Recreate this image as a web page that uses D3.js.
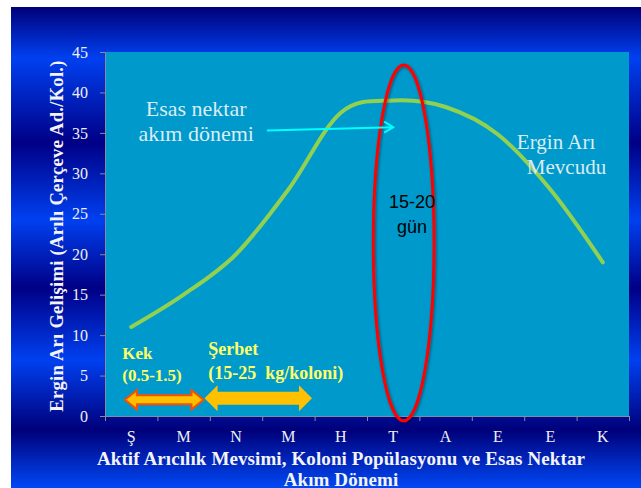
<!DOCTYPE html>
<html>
<head>
<meta charset="utf-8">
<script src="https://cdn.jsdelivr.net/npm/d3@7"></script>
<style>
    html, body { margin: 0; padding: 0; background: #fff; }
    svg { display: block; }
    text { font-family: "Liberation Serif", "DejaVu Serif", serif; }
</style>
</head>
<body>
<div id="chart"></div>
<script>
// Chart data
const months = ["Ş", "M", "N", "M", "H", "T", "A", "E", "E", "K"];
const beeFrames = [11, 15, 20, 28, 37.5, 39, 38.2, 34.8, 28, 19];
const yTicks = [0, 5, 10, 15, 20, 25, 30, 35, 40, 45];
const yLabel = "Ergin Arı Gelişimi (Arılı Çerçeve Ad./Kol.)";
const xLabel = ["Aktif Arıcılık Mevsimi, Koloni Popülasyonu ve Esas Nektar", "Akım Dönemi"];
const nectarLabel = ["Esas nektar", "akım dönemi"];
const seriesLabel = ["Ergin Arı", "Mevcudu"];
const flowLabel = ["15-20", "gün"];
const kekLabel = ["Kek", "(0.5-1.5)"];
const serbetLabel = ["Şerbet", "(15-25  kg/koloni)"];

const width = 641;
const height = 488;
const marginTop = 52;
const marginRight = 12;
const marginBottom = 72;
const marginLeft = 105;

const svg = d3
    .select("#chart")
    .append("svg")
    .attr("width", width)
    .attr("height", height);

const defs = svg.append("defs");

// Blue slide background with horizontal bands
const bg = defs
    .append("linearGradient")
    .attr("id", "bgGrad")
    .attr("gradientUnits", "userSpaceOnUse")
    .attr("x1", 0).attr("y1", 7)
    .attr("x2", 0).attr("y2", height);
[
    [7, "#00007a"], [58, "#0040f0"], [143, "#000086"], [220, "#0040f0"],
    [288, "#000086"], [360, "#0040f0"], [430, "#00007a"], [488, "#0048f5"],
].forEach(([yy, c]) => {
    bg.append("stop").attr("offset", (yy - 7) / (height - 7)).attr("stop-color", c);
});

const shadow = defs.append("filter").attr("id", "shadow")
    .attr("x", "-30%").attr("y", "-10%").attr("width", "160%").attr("height", "120%");
shadow.append("feDropShadow")
    .attr("dx", 1).attr("dy", 1).attr("stdDeviation", 1.5)
    .attr("flood-color", "#000").attr("flood-opacity", 0.45);

svg.append("rect")
    .attr("x", 11).attr("y", 7)
    .attr("width", width - 11).attr("height", height - 7)
    .attr("fill", "url(#bgGrad)");

// Scales
const x = d3
    .scaleBand()
    .domain(d3.range(months.length))
    .range([marginLeft, width - marginRight]);
const bw = x.bandwidth();
const cx = (i) => x(i) + bw / 2;

const y = d3
    .scaleLinear()
    .domain([0, 45])
    .range([height - marginBottom, marginTop]);

// Plot area
svg.append("rect")
    .attr("x", marginLeft)
    .attr("y", marginTop)
    .attr("width", width - marginRight - marginLeft)
    .attr("height", y(0) - marginTop)
    .attr("fill", "#0099cc");

// Y axis
svg.append("g")
    .attr("transform", `translate(${marginLeft},0)`)
    .call(d3.axisLeft(y).tickValues(yTicks).tickSize(5).tickPadding(12))
    .call((g) => g.selectAll("line, path").attr("stroke", "#8a8a9a"))
    .call((g) => g.selectAll("text")
        .attr("fill", "#eef0f4")
        .attr("font-family", "Liberation Serif, serif")
        .style("font-size", "16px"));

// X axis: ticks on band edges, labels at band centers
const xEdges = d3.scaleLinear().domain([0, months.length]).range(x.range());
svg.append("g")
    .attr("transform", `translate(0,${y(0)})`)
    .call(d3.axisBottom(xEdges).ticks(months.length).tickSize(5).tickFormat(""))
    .call((g) => g.selectAll("line, path").attr("stroke", "#8a8a9a"));

svg.append("g")
    .attr("transform", `translate(0,${y(0)})`)
    .call(d3.axisBottom(x).tickSize(0).tickPadding(15).tickFormat((i) => months[i]))
    .call((g) => g.select(".domain").remove())
    .call((g) => g.selectAll("text")
        .attr("fill", "#eef0f4")
        .attr("font-family", "Liberation Serif, serif")
        .style("font-size", "16px"));

// Axis titles
svg.append("text")
    .attr("transform", `translate(63,${(y(0) + marginTop) / 2 + 2}) rotate(-90)`)
    .attr("text-anchor", "middle")
    .attr("fill", "#f4f4f8")
    .attr("font-weight", "bold")
    .style("font-size", "18.5px")
    .style("letter-spacing", "0.3px")
    .text(yLabel);

svg.append("g")
    .selectAll("text")
    .data(xLabel)
    .join("text")
    .attr("x", 341)
    .attr("y", (d, i) => 465 + i * 20.5)
    .attr("text-anchor", "middle")
    .attr("fill", "#f4f4f8")
    .attr("font-weight", "bold")
    .style("font-size", "19px")
    .style("letter-spacing", "0.1px")
    .text((d) => d);

// Bee population curve
const line = d3
    .line()
    .x((d, i) => cx(i))
    .y((d) => y(d))
    .curve(d3.curveCatmullRom.alpha(0));

svg.append("path")
    .datum(beeFrames)
    .attr("fill", "none")
    .attr("stroke", "#92d050")
    .attr("stroke-width", 4)
    .attr("stroke-linecap", "round")
    .attr("d", line);

// Red ellipse around the nectar flow month
svg.append("ellipse")
    .attr("cx", x(5) + bw * 0.7)
    .attr("cy", (y(43.4) + y(-0.6)) / 2)
    .attr("rx", bw * 0.58)
    .attr("ry", (y(-0.6) - y(43.4)) / 2)
    .attr("fill", "none")
    .attr("stroke", "#ff0000")
    .attr("stroke-width", 3)
    .attr("filter", "url(#shadow)");

svg.append("g")
    .selectAll("text")
    .data(flowLabel)
    .join("text")
    .attr("x", x(5) + bw * 0.86)
    .attr("y", (d, i) => y(25.7) + i * 24.5)
    .attr("text-anchor", "middle")
    .attr("fill", "#000")
    .style("font-family", "Liberation Sans, Arial, sans-serif")
    .style("font-size", "18px")
    .text((d) => d);

// Cyan arrow pointing at the nectar flow
const ax0 = x(3) + bw * 0.09, ay0 = y(35.3);
const ax1 = cx(5), ay1 = y(35.7);
svg.append("line")
    .attr("x1", ax0).attr("y1", ay0)
    .attr("x2", ax1).attr("y2", ay1)
    .attr("stroke", "#00ffff")
    .attr("stroke-width", 2);
svg.append("path")
    .attr("d", `M${ax1 - 9},${ay1 - 5.5}L${ax1},${ay1}L${ax1 - 9},${ay1 + 5.5}`)
    .attr("fill", "none")
    .attr("stroke", "#00ffff")
    .attr("stroke-width", 2);

svg.append("g")
    .selectAll("text")
    .data(nectarLabel)
    .join("text")
    .attr("x", x(1) + bw * 0.74)
    .attr("y", (d, i) => y(37.1) + i * 25)
    .attr("text-anchor", "middle")
    .attr("fill", "#dcecf2")
    .style("font-size", "22px")
    .text((d) => d);

// Series label
svg.append("g")
    .selectAll("text")
    .data(seriesLabel)
    .join("text")
    .attr("x", (d, i) => x(7) + bw * 0.86 + i * 10)
    .attr("y", (d, i) => y(33) + i * 25)
    .attr("fill", "#dcecf2")
    .style("font-size", "21px")
    .text((d) => d);

// Feeding arrows (cake and syrup)
function doubleArrow(x0, x1, yc, shaft, head, headLen) {
    const p = d3.path();
    p.moveTo(x0, yc);
    p.lineTo(x0 + headLen, yc - head);
    p.lineTo(x0 + headLen, yc - shaft);
    p.lineTo(x1 - headLen, yc - shaft);
    p.lineTo(x1 - headLen, yc - head);
    p.lineTo(x1, yc);
    p.lineTo(x1 - headLen, yc + head);
    p.lineTo(x1 - headLen, yc + shaft);
    p.lineTo(x0 + headLen, yc + shaft);
    p.lineTo(x0 + headLen, yc + head);
    p.closePath();
    return p.toString();
}

svg.append("path")
    .attr("d", doubleArrow(x(0) + bw * 0.38, x(2) - bw * 0.12, y(2), 4.5, 9.5, 12))
    .attr("fill", "#ffc000")
    .attr("stroke", "#ff4d00")
    .attr("stroke-width", 2)
    .attr("stroke-linejoin", "miter");

svg.append("path")
    .attr("d", doubleArrow(x(2) - bw * 0.1, x(4) - bw * 0.05, y(2.2), 6.5, 13, 13))
    .attr("fill", "#ffc000");

const feedText = svg.append("g")
    .attr("fill", "#ffff66")
    .attr("font-weight", "bold");

feedText.selectAll(".kek")
    .data(kekLabel)
    .join("text")
    .attr("class", "kek")
    .attr("x", x(0) + bw * 0.33)
    .attr("y", (d, i) => y(7.0) + i * 22)
    .style("font-size", "17px")
    .text((d) => d);

feedText.selectAll(".serbet")
    .data(serbetLabel)
    .join("text")
    .attr("class", "serbet")
    .attr("x", x(2) - bw * 0.03)
    .attr("y", (d, i) => y(7.5) + i * 24)
    .style("font-size", "18px")
    .style("white-space", "pre")
    .text((d) => d);
</script>
</body>
</html>
